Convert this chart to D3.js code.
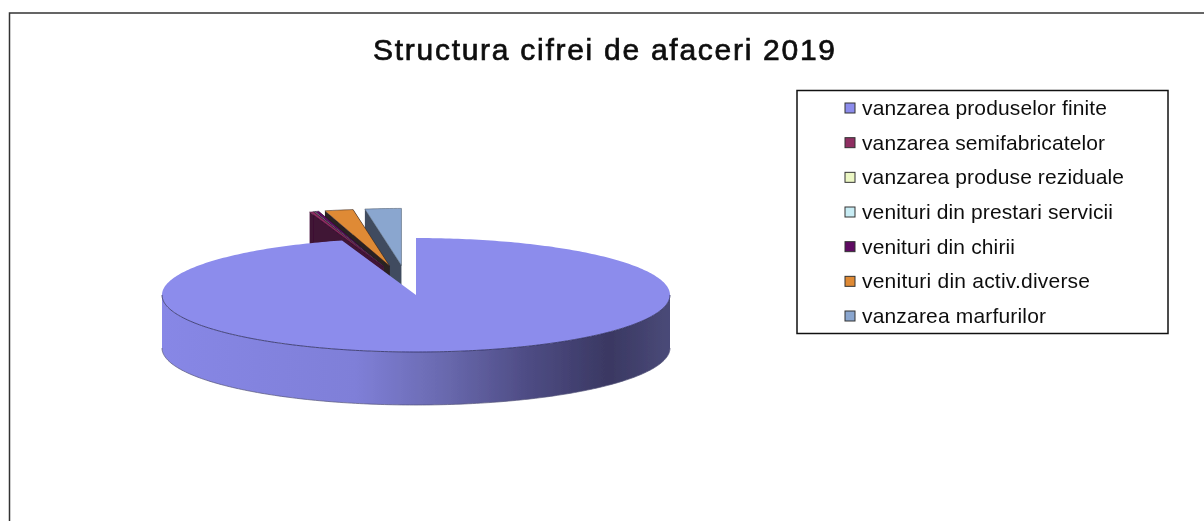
<!DOCTYPE html>
<html><head><meta charset="utf-8">
<script src="https://cdn.jsdelivr.net/npm/d3@7"></script>
<style>html,body{margin:0;padding:0;background:#fff}svg{display:block}text{font-family:"Liberation Sans",Arial,sans-serif}</style>
</head><body><svg id="c" width="1204" height="521"></svg>
<script>
const titleText = "Structura cifrei de afaceri 2019";
const categories = ["vanzarea produselor finite","vanzarea semifabricatelor","vanzarea produse reziduale","venituri din prestari servicii","venituri din chirii","venituri din activ.diverse","vanzarea marfurilor"];
const values = [95.3, 0.25, 0.05, 0.05, 0.25, 1.8, 2.3];
const colors = ["#8c8cec","#8f2f62","#ecf7c4","#c8ecf4","#5f0a62","#df8a35","#8aa6cf"];
const wallColors = ["#6a6ab8","#3f1234","#4a4a50","#3a4a55","#2b0f30","#2c2022","#3f4c5e"];
const sliceShiftX = [0,5,4,3,2,0,-5];
const legendWidths = [245,243,262,251,153,228,184];

const W = 1204, H = 521, cx = 416, cy = 295, rx = 254, ry = 57, depth = 53, explode = 0.52;
const svg = d3.select("#c");
const defs = svg.append("defs");
const grad = defs.append("linearGradient").attr("id","side").attr("gradientUnits","userSpaceOnUse")
  .attr("x1",cx-rx).attr("x2",cx+rx).attr("y1",0).attr("y2",0);
[[0,"#8787e6"],[0.38,"#7f7fd8"],[0.55,"#6a6ab0"],[0.72,"#4e4c84"],[0.88,"#3a3862"],[1,"#4a4a78"]]
  .forEach(s=>grad.append("stop").attr("offset",s[0]).attr("stop-color",s[1]));
const blur = defs.append("filter").attr("id","soft").attr("x","-5%").attr("y","-20%").attr("width","110%").attr("height","140%");
blur.append("feGaussianBlur").attr("stdDeviation",0.45);
const blurM = defs.append("filter").attr("id","softm");
blurM.append("feGaussianBlur").attr("stdDeviation",0.4);

svg.append("rect").attr("x",9.5).attr("y",13).attr("width",W).attr("height",H).attr("fill","#fff").attr("stroke","#333").attr("stroke-width",1.5);

svg.append("text").attr("x",604).attr("y",60).attr("text-anchor","middle").attr("font-size",30)
  .attr("fill","#111").attr("stroke","#111").attr("stroke-width",0.7).attr("textLength",462).attr("lengthAdjust","spacing").attr("filter","url(#soft)").text(titleText);

const arcs = d3.pie().sort(null).value(d=>d)(values);
const line = d3.line();
const pt = (a,ox,oy,dz=0)=>[ox+rx*Math.sin(a), oy-ry*Math.cos(a)+dz];
const arcPts = (a0,a1,ox,oy,dz=0)=>{const n=Math.max(2,Math.ceil(Math.abs(a1-a0)*60));return d3.range(n+1).map(i=>pt(a0+(a1-a0)*i/n,ox,oy,dz));};

const pieG = svg.append("g").attr("filter","url(#softm)");
arcs.slice(1).reverse().forEach(d=>{
  const mid=(d.startAngle+d.endAngle)/2;
  const ox=cx+explode*rx*Math.sin(mid)+sliceShiftX[d.index], oy=cy-explode*ry*Math.cos(mid);
  pieG.append("path").attr("d",line([pt(d.startAngle,ox,oy),[ox,oy],[ox,oy+depth],pt(d.startAngle,ox,oy,depth)])+"Z").attr("fill",wallColors[d.index]);
  pieG.append("path").attr("d",line([[ox,oy],[ox,oy+depth],pt(d.endAngle,ox,oy,depth),pt(d.endAngle,ox,oy)])+"Z").attr("fill",wallColors[d.index]);
  pieG.append("path").attr("d",line([[ox,oy],...arcPts(d.startAngle,d.endAngle,ox,oy)])+"Z").attr("fill",colors[d.index]).attr("stroke",wallColors[d.index]).attr("stroke-width",0.5);
});
const m = arcs[0];
const a0 = Math.PI/2, a1 = 3*Math.PI/2;
pieG.append("path").attr("d",line([...arcPts(a0,a1,cx,cy),...arcPts(a1,a0,cx,cy,depth)])+"Z").attr("fill","url(#side)");
pieG.append("path").attr("d",line([[cx,cy],...arcPts(m.startAngle,m.endAngle,cx,cy)])+"Z").attr("fill",colors[0]);
pieG.append("path").attr("d",line(arcPts(a0,a1,cx,cy))).attr("fill","none").attr("stroke","#2e2e5c").attr("stroke-width",0.8);
pieG.append("path").attr("d",line(arcPts(a0,a1,cx,cy,depth))).attr("fill","none").attr("stroke","#55557a").attr("stroke-width",0.7);

const lx=797, ly=90.5, lw=371, lh=243;
svg.append("rect").attr("x",lx).attr("y",ly).attr("width",lw).attr("height",lh).attr("fill","#fff").attr("stroke","#111").attr("stroke-width",1.5);
const rowY = d3.scalePoint().domain(categories).range([108,316]);
const leg = svg.selectAll("g.l").data(categories).join("g").attr("class","l").attr("transform",d=>`translate(0,${rowY(d)})`);
leg.append("rect").attr("x",845).attr("y",-5).attr("width",10).attr("height",10).attr("fill",(d,i)=>colors[i]).attr("stroke","#333").attr("stroke-width",1);
leg.append("text").attr("x",862).attr("y",7).attr("font-size",21).attr("fill","#111").attr("filter","url(#soft)")
  .attr("textLength",(d,i)=>legendWidths[i]).attr("lengthAdjust","spacing").text(d=>d);
</script></body></html>
